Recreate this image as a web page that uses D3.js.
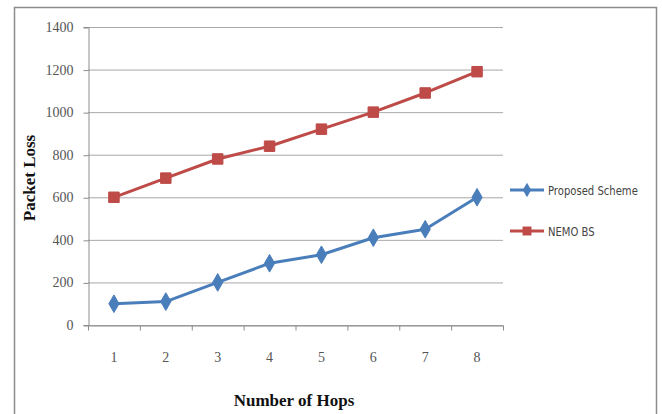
<!DOCTYPE html>
<html>
<head>
<meta charset="utf-8">
<script src="https://cdn.jsdelivr.net/npm/d3@7"></script>
<style>
  html, body { margin: 0; padding: 0; background: #fff; }
  svg { display: block; }
</style>
</head>
<body>
<svg id="chart" width="662" height="414"></svg>
<script>
// Hop counts on the x axis
const hops = ["1", "2", "3", "4", "5", "6", "7", "8"];
// Packet loss per scheme
const proposedScheme = [100, 110, 200, 290, 330, 410, 450, 600];
const nemoBS = [600, 690, 780, 840, 920, 1000, 1090, 1190];
// Y axis ticks
const yTicks = [0, 200, 400, 600, 800, 1000, 1200, 1400];

const seriesNames = ["Proposed Scheme", "NEMO BS"];
const seriesColors = ["#4A7EBB", "#BE4B48"];
const series = [
  { name: seriesNames[0], values: proposedScheme, color: seriesColors[0], marker: "diamond" },
  { name: seriesNames[1], values: nemoBS, color: seriesColors[1], marker: "square" }
];

const svg = d3.select("#chart");
const plot = { left: 88, right: 503, top: 27, bottom: 325 };

// Outer chart frame
svg.append("rect")
  .attr("x", 14.5).attr("y", 7.5)
  .attr("width", 642).attr("height", 420)
  .attr("fill", "#fff").attr("stroke", "#8c8c8c").attr("stroke-width", 1.5);

const x = d3.scaleBand().domain(hops).range([plot.left, plot.right]);
const y = d3.scaleLinear().domain([0, 1400]).range([plot.bottom, plot.top]);

// Horizontal gridlines
svg.append("g")
  .selectAll("line")
  .data(yTicks)
  .join("line")
  .attr("x1", plot.left).attr("x2", plot.right)
  .attr("y1", d => y(d) + 0.5).attr("y2", d => y(d) + 0.5)
  .attr("stroke", "#a8a8a8").attr("stroke-width", 1);

// Y axis
const yAxis = svg.append("g")
  .attr("transform", `translate(${plot.left + 0.5},0)`)
  .call(d3.axisLeft(y).tickValues(yTicks).tickSize(5).tickPadding(10).tickFormat(d3.format("d")));
yAxis.select(".domain").attr("stroke", "#8c8c8c");
yAxis.selectAll(".tick line").attr("stroke", "#8c8c8c").attr("transform", "translate(0,0.5)");
yAxis.selectAll("text")
  .attr("font-family", "'Liberation Serif', 'Times New Roman', serif")
  .attr("font-size", 14).attr("fill", "#555");

// X axis with ticks between categories
const xAxis = svg.append("g")
  .attr("transform", `translate(0,${plot.bottom + 0.5})`)
  .call(d3.axisBottom(x).tickSize(0).tickPadding(27));
xAxis.select(".domain").attr("stroke", "#8c8c8c");
xAxis.selectAll("text")
  .attr("font-family", "'Liberation Serif', 'Times New Roman', serif")
  .attr("font-size", 14).attr("fill", "#555");
xAxis.append("g")
  .selectAll("line")
  .data(d3.range(hops.length + 1))
  .join("line")
  .attr("x1", i => plot.left + i * x.step() + 0.5)
  .attr("x2", i => plot.left + i * x.step() + 0.5)
  .attr("y1", 0).attr("y2", 5)
  .attr("stroke", "#8c8c8c");

// Lines and markers
const line = d3.line()
  .x((d, i) => x(hops[i]) + x.bandwidth() / 2)
  .y(d => y(d));

const diamond = d3.symbol().type(d3.symbolDiamond).size(90);
const square = d3.symbol().type(d3.symbolSquare).size(110);

series.forEach(s => {
  const g = svg.append("g");
  g.append("path")
    .datum(s.values)
    .attr("d", line)
    .attr("fill", "none")
    .attr("stroke", s.color)
    .attr("stroke-width", 3)
    .attr("stroke-linejoin", "round");
  g.selectAll("path.marker")
    .data(s.values)
    .join("path")
    .attr("class", "marker")
    .attr("d", s.marker === "diamond" ? diamond : square)
    .attr("transform", (d, i) => `translate(${x(hops[i]) + x.bandwidth() / 2},${y(d)})`)
    .attr("fill", s.color)
    .attr("stroke", s.color)
    .attr("stroke-width", 1);
});

// Legend
const legend = svg.append("g").attr("transform", "translate(510,190)");
series.forEach((s, i) => {
  const row = legend.append("g").attr("transform", `translate(0,${i * 41})`);
  row.append("line")
    .attr("x1", 0).attr("x2", 34).attr("y1", 0).attr("y2", 0)
    .attr("stroke", s.color).attr("stroke-width", 3);
  row.append("path")
    .attr("d", s.marker === "diamond" ? d3.symbol().type(d3.symbolDiamond).size(60)() : d3.symbol().type(d3.symbolSquare).size(80)())
    .attr("transform", "translate(17,0)")
    .attr("fill", s.color);
  row.append("text")
    .attr("transform", "translate(38,0) scale(0.86,1)")
    .attr("dy", "0.35em")
    .attr("font-family", "'Liberation Sans Narrow', 'DejaVu Sans Condensed', 'Arial Narrow', sans-serif")
    .attr("font-size", 13).attr("fill", "#444")
    .text(s.name);
});

// Axis titles
svg.append("text")
  .attr("transform", "translate(35,178) rotate(-90)")
  .attr("text-anchor", "middle")
  .attr("font-family", "'Liberation Serif', 'Times New Roman', serif")
  .attr("font-weight", "bold").attr("font-size", 17).attr("fill", "#111")
  .text("Packet Loss");

svg.append("text")
  .attr("x", 294).attr("y", 406)
  .attr("text-anchor", "middle")
  .attr("font-family", "'Liberation Serif', 'Times New Roman', serif")
  .attr("font-weight", "bold").attr("font-size", 17).attr("fill", "#111")
  .text("Number of Hops");
</script>
</body>
</html>
